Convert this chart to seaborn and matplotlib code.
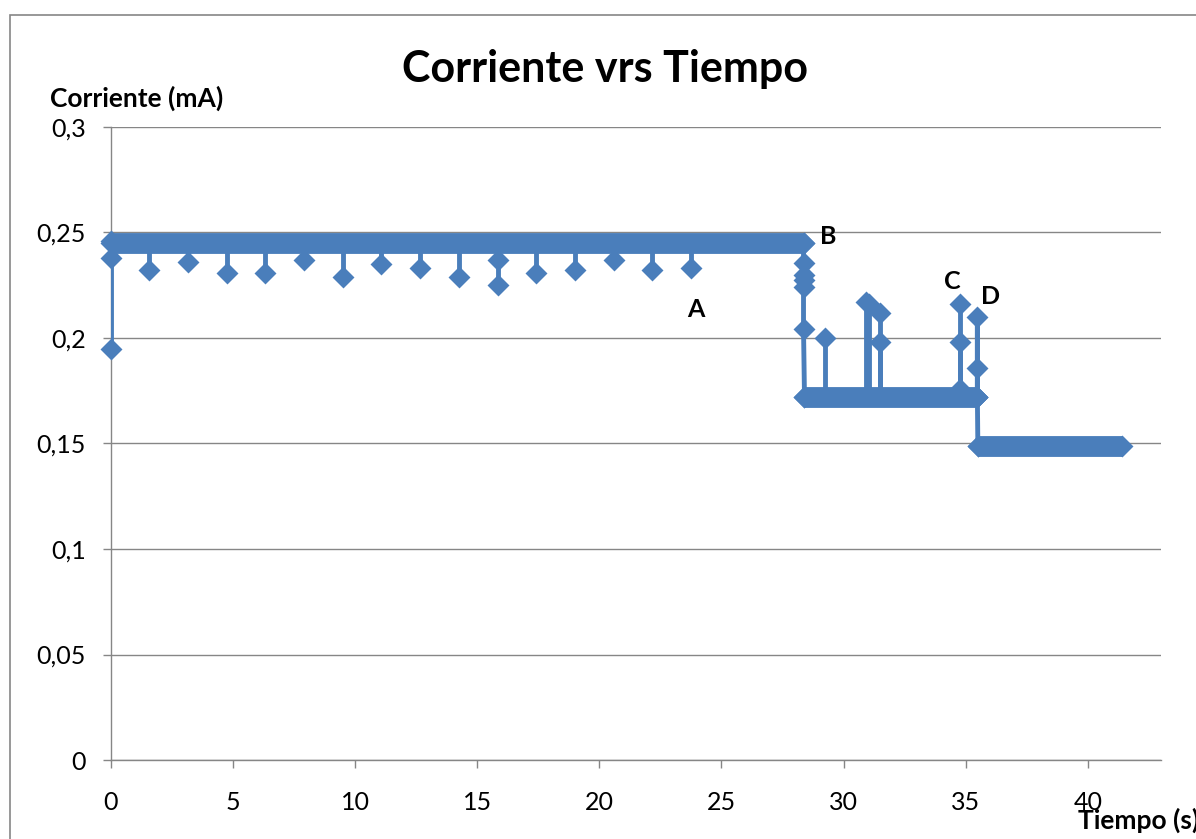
import numpy as np
import pandas as pd
import matplotlib
matplotlib.use('Agg')
from matplotlib import pyplot as plt
from matplotlib.ticker import FuncFormatter, MultipleLocator
from matplotlib.patches import Rectangle
import seaborn as sns

# plateaus: start (s), end (s), level (mA)
plat_start = [0.0, 28.40, 35.50]
plat_end = [28.36, 35.45, 41.40]
plat_level = [0.245, 0.172, 0.149]

# single readings that drop below the first plateau
dip_t = [1.56, 3.16, 4.75, 6.31, 7.91, 9.51, 11.07, 12.66, 14.26, 15.86,
         15.86, 17.42, 19.02, 20.61, 22.17, 23.77]
dip_i = [0.232, 0.236, 0.231, 0.231, 0.237, 0.229, 0.235, 0.233, 0.229, 0.237,
         0.225, 0.231, 0.232, 0.237, 0.232, 0.233]

# readings that jump above the second plateau
spike_t = [29.26, 30.90, 31.05, 31.48, 31.48, 34.78, 34.78, 34.78]
spike_i = [0.200, 0.217, 0.216, 0.212, 0.198, 0.176, 0.216, 0.198]

# transitions: start, drop at B, drop after D
start_t = [0.0, 0.0, 0.0]
start_i = [0.195, 0.238, 0.246]
b_t = [28.36, 28.36, 28.36, 28.36, 28.36, 28.36, 28.40]
b_i = [0.245, 0.2355, 0.230, 0.2275, 0.224, 0.2045, 0.172]
d_t = [35.45, 35.48, 35.48, 35.48, 35.48, 35.50]
d_i = [0.172, 0.172, 0.210, 0.186, 0.172, 0.149]

label_txt = ['A', 'B', 'C', 'D']
label_t = [23.60, 29.05, 34.10, 35.62]
label_i = [0.2133, 0.2479, 0.2270, 0.2199]

blue = '#4a7ebb'
grey = '#868686'

sns.set_theme(style='white')
plt.rcParams['font.family'] = ['Lato', 'DejaVu Sans']
plt.rcParams['text.color'] = 'black'

fig = plt.figure(figsize=(11.96, 8.39), dpi=100)
ax = fig.add_axes([111 / 1196, 1 - 760 / 839, 1050 / 1196, 633 / 839])

# figure frame (Excel chart area)
fig.patches.append(Rectangle((10 / 1196, -0.5), 2.0, 1.5 - 15 / 839,
                             transform=fig.transFigure, fill=False,
                             edgecolor=grey, lw=1.2))

# plateau bands
ax.hlines(plat_level, plat_start, plat_end, color=blue, lw=15,
          capstyle='butt', zorder=3)
# stems for dips and spikes
ax.vlines(dip_t, dip_i, plat_level[0], color=blue, lw=3.5, zorder=3)
ax.vlines(spike_t, plat_level[1], spike_i, color=blue, lw=3.5, zorder=3)

for tt, ii in [(start_t, start_i), (b_t, b_i), (d_t, d_i)]:
    sns.lineplot(x=tt, y=ii, sort=False, estimator=None, color=blue,
                 lw=3.5, ax=ax, zorder=3)

pts = pd.DataFrame({
    't': dip_t + spike_t + start_t + b_t + d_t + plat_start + plat_end,
    'i': dip_i + spike_i + start_i + b_i + d_i + plat_level + plat_level,
})
sns.scatterplot(data=pts, x='t', y='i', marker='D', s=125, color=blue,
                linewidth=0, ax=ax, zorder=4, clip_on=False)

for txt, tt, ii in zip(label_txt, label_t, label_i):
    ax.text(tt, ii, txt, fontsize=18, fontweight='bold', ha='left',
            va='center', zorder=5)

ax.set_xlim(0, 43)
ax.set_ylim(0, 0.3)
ax.xaxis.set_major_locator(MultipleLocator(5))
ax.yaxis.set_major_locator(MultipleLocator(0.05))
ax.yaxis.set_major_formatter(FuncFormatter(lambda v, p: f'{v:g}'.replace('.', ',')))
ax.set_xlabel('')
ax.set_ylabel('')
ax.grid(axis='y', color=grey, lw=1)
ax.set_axisbelow(True)
for s in ['top', 'right']:
    ax.spines[s].set_visible(False)
for s in ['left', 'bottom']:
    ax.spines[s].set_color(grey)
    ax.spines[s].set_linewidth(1)
ax.tick_params(axis='both', which='major', length=6, width=1, color=grey,
               labelsize=18, labelcolor='black', left=True, bottom=True)
ax.tick_params(axis='y', pad=12)
ax.tick_params(axis='x', pad=16)

fig.text(605 / 1196, 1 - 82 / 839, 'Corriente vrs Tiempo', ha='center',
         va='baseline', fontsize=31, fontweight='bold')
fig.text(50 / 1196, 1 - 107 / 839, 'Corriente (mA)', ha='left',
         va='baseline', fontsize=19, fontweight='bold')
fig.text(1078 / 1196, 1 - 829 / 839, 'Tiempo (s)', ha='left',
         va='baseline', fontsize=19, fontweight='bold')

fig.savefig('out.png', dpi=100)
